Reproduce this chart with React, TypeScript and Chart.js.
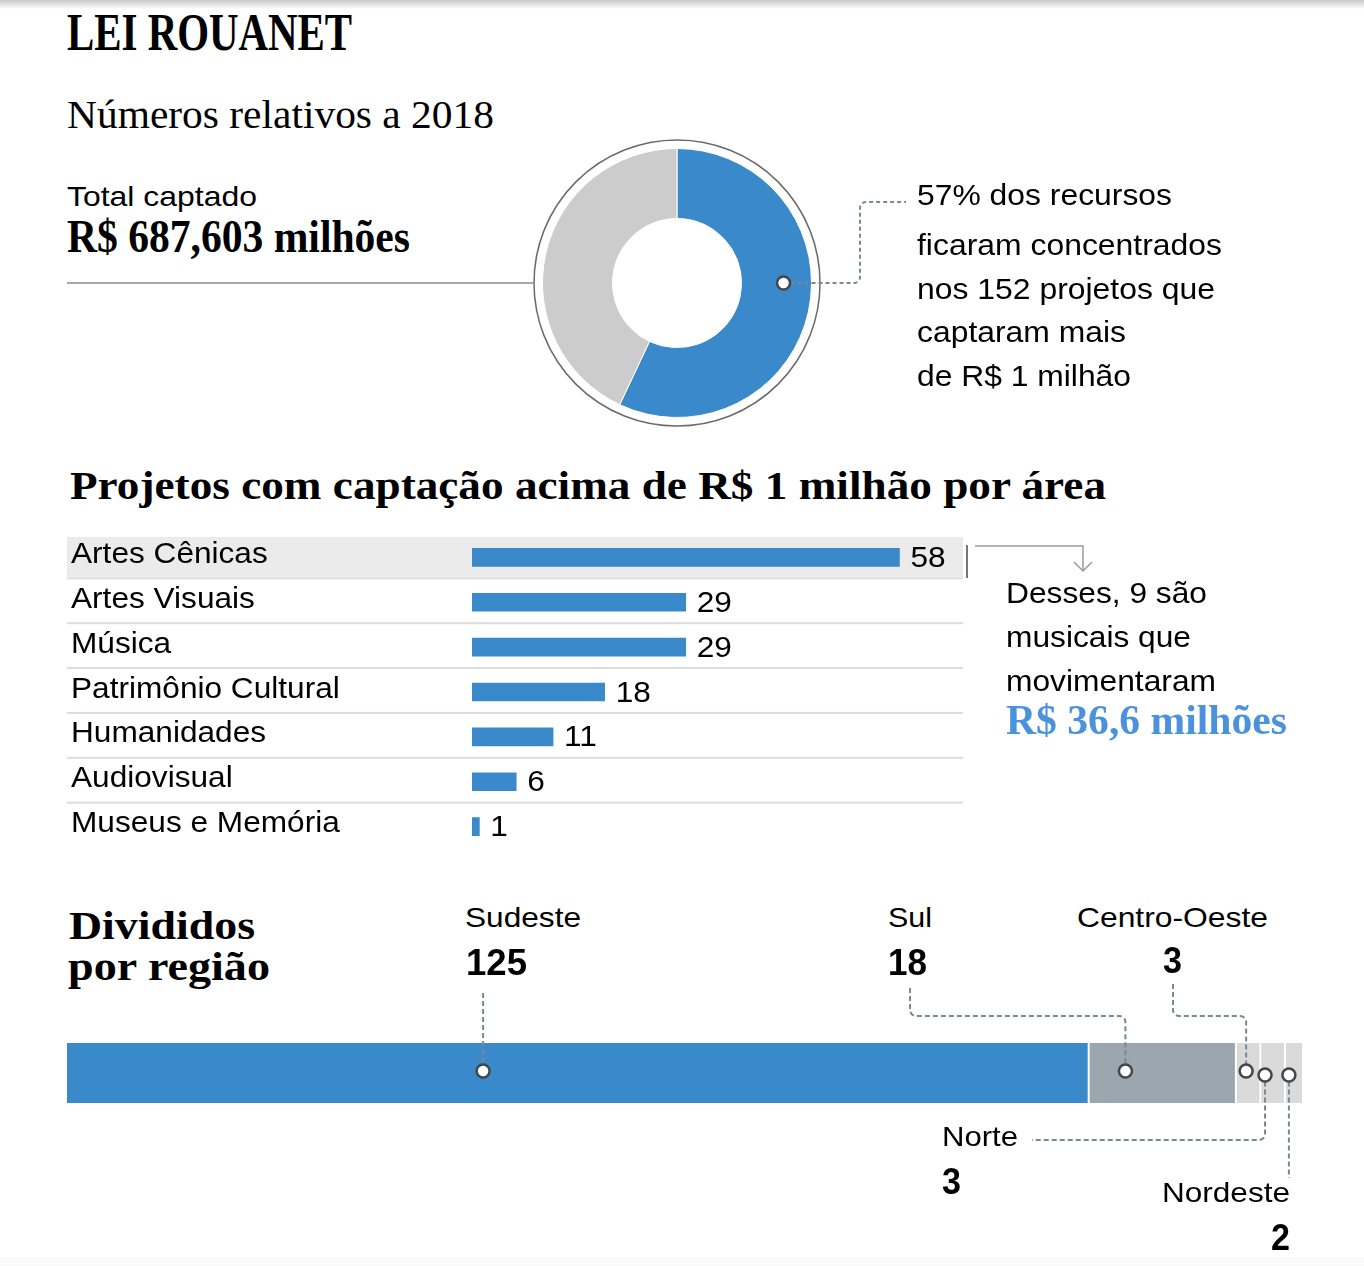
import React, { useEffect, useLayoutEffect, useRef } from "react";
import { Chart, registerables } from "chart.js";

Chart.register(...registerables);

// ---------- data ----------
const donutLabels = ["Projetos acima de R$ 1 milhão", "Demais projetos"];
const donutValues = [57, 43];

const areaLabels = [
  "Artes Cênicas",
  "Artes Visuais",
  "Música",
  "Patrimônio Cultural",
  "Humanidades",
  "Audiovisual",
  "Museus e Memória",
];
const areaValues = [58, 29, 29, 18, 11, 6, 1];

const regionLabels = ["Sudeste", "Sul", "Centro-Oeste", "Norte", "Nordeste"];
const regionValues = [125, 18, 3, 3, 2];

// ---------- styles ----------
const BLUE = "#3a89ca";
const GRAY = "#cccccc";
const SANS = "'Liberation Sans', Arial, sans-serif";
const SERIF = "'Liberation Serif', 'Times New Roman', serif";
const SX = 1.09;
const LEADER = "#7f868c";

Chart.defaults.font.family = SANS;

type TxtProps = {
  x: number;
  base: number;
  size: number;
  w?: number;
  text: string;
  serif?: boolean;
  bold?: boolean;
  color?: string;
  right?: boolean;
};

function Txt({ x, base, size, w, text, serif, bold, color, right }: TxtProps) {
  const ref = useRef<HTMLSpanElement>(null);
  useLayoutEffect(() => {
    const el = ref.current;
    if (!el) return;
    el.style.transform = "none";
    const nat = el.getBoundingClientRect().width;
    if (w && nat > 0) el.style.transform = `scaleX(${w / nat})`;
  }, [text, w, size]);
  const asc = serif ? 0.8375 : 0.8465;
  const style: React.CSSProperties = {
    position: "absolute",
    top: base - asc * size,
    fontSize: size,
    lineHeight: 1,
    whiteSpace: "nowrap",
    fontFamily: serif ? SERIF : SANS,
    fontWeight: bold ? 700 : 400,
    color: color || "#000",
    transformOrigin: right ? "right top" : "left top",
  };
  if (right) style.right = 1364 - x;
  else style.left = x;
  return (
    <span ref={ref} style={style}>
      {text}
    </span>
  );
}

function roundedPath(ctx: CanvasRenderingContext2D, pts: number[][], r = 6) {
  ctx.beginPath();
  ctx.moveTo(pts[0][0], pts[0][1]);
  for (let i = 1; i < pts.length - 1; i++) {
    ctx.arcTo(pts[i][0], pts[i][1], pts[i + 1][0], pts[i + 1][1], r);
  }
  ctx.lineTo(pts[pts.length - 1][0], pts[pts.length - 1][1]);
  ctx.stroke();
}

function marker(ctx: CanvasRenderingContext2D, x: number, y: number, r = 6.5) {
  ctx.save();
  ctx.setLineDash([]);
  ctx.beginPath();
  ctx.arc(x, y, r, 0, Math.PI * 2);
  ctx.fillStyle = "#ffffff";
  ctx.fill();
  ctx.lineWidth = 2.5;
  ctx.strokeStyle = "#41474c";
  ctx.stroke();
  ctx.restore();
}

function stretchedText(ctx: CanvasRenderingContext2D, t: string, x: number, y: number) {
  ctx.save();
  ctx.translate(x, y);
  ctx.scale(SX, 1);
  ctx.fillText(t, 0, 0);
  ctx.restore();
}

// ---------- donut ----------
function Donut() {
  const ref = useRef<HTMLCanvasElement>(null);
  useEffect(() => {
    const plugin = {
      id: "ringAndLeader",
      afterDraw(chart: any) {
        const arc = chart.getDatasetMeta(0).data[0];
        const { x, y, outerRadius, innerRadius } = arc.getProps(
          ["x", "y", "outerRadius", "innerRadius"],
          true
        );
        const ctx: CanvasRenderingContext2D = chart.ctx;
        ctx.save();
        ctx.strokeStyle = "#6a6a6a";
        ctx.lineWidth = 1.5;
        ctx.beginPath();
        ctx.arc(x, y, outerRadius + 8.5, 0, Math.PI * 2);
        ctx.stroke();
        const mx = x + innerRadius + (outerRadius - innerRadius) * 0.6;
        ctx.strokeStyle = LEADER;
        ctx.lineWidth = 2;
        ctx.setLineDash([4, 3]);
        roundedPath(ctx, [
          [mx + 7, y],
          [x + 183, y],
          [x + 183, y - 81],
          [x + 229, y - 81],
        ]);
        ctx.restore();
        marker(ctx, mx, y);
      },
    };
    const chart = new Chart(ref.current as HTMLCanvasElement, {
      type: "doughnut",
      data: {
        labels: donutLabels,
        datasets: [
          {
            data: donutValues,
            backgroundColor: [BLUE, GRAY],
            borderColor: "#ffffff",
            borderWidth: 1,
          },
        ],
      },
      options: {
        responsive: false,
        animation: false,
        cutout: "48%",
        layout: { padding: { left: 42, right: 108, top: 15, bottom: 15 } },
        plugins: { legend: { display: false }, tooltip: { enabled: false } },
      },
      plugins: [plugin],
    });
    return () => chart.destroy();
  }, []);
  return (
    <canvas
      ref={ref}
      width={420}
      height={300}
      style={{ position: "absolute", left: 500, top: 133, width: 420, height: 300 }}
    />
  );
}

// ---------- bars by area ----------
function AreaBars() {
  const ref = useRef<HTMLCanvasElement>(null);
  useEffect(() => {
    const plugin = {
      id: "rows",
      beforeDatasetsDraw(chart: any) {
        const ctx: CanvasRenderingContext2D = chart.ctx;
        const ys = chart.scales.y;
        const n = areaLabels.length;
        const band = ys.getPixelForValue(1) - ys.getPixelForValue(0);
        const rowRight = 896;
        ctx.save();
        const c0 = ys.getPixelForValue(0);
        const top0 = c0 - band / 2;
        ctx.fillStyle = "#ebebeb";
        ctx.fillRect(0, top0 + 2, rowRight, band - 5);
        ctx.fillStyle = "#dcdcdc";
        for (let i = 0; i < n - 1; i++) {
          const yy = ys.getPixelForValue(i) + band / 2 - 2.5;
          ctx.fillRect(0, yy, rowRight, 2);
        }
        // bracket + arrow
        ctx.strokeStyle = "#777777";
        ctx.lineWidth = 2;
        ctx.beginPath();
        ctx.moveTo(900, top0 + 10);
        ctx.lineTo(900, top0 + 43);
        ctx.stroke();
        ctx.strokeStyle = "#9a9a9a";
        ctx.lineWidth = 1.5;
        ctx.beginPath();
        ctx.moveTo(908, top0 + 11);
        ctx.lineTo(1016, top0 + 11);
        ctx.lineTo(1016, top0 + 36);
        ctx.stroke();
        ctx.beginPath();
        ctx.moveTo(1007, top0 + 27);
        ctx.lineTo(1016, top0 + 36);
        ctx.lineTo(1025, top0 + 27);
        ctx.stroke();
        ctx.restore();
      },
      afterDatasetsDraw(chart: any) {
        const ctx: CanvasRenderingContext2D = chart.ctx;
        const ys = chart.scales.y;
        const meta = chart.getDatasetMeta(0);
        ctx.save();
        ctx.fillStyle = "#000";
        ctx.font = `29px ${SANS}`;
        ctx.textBaseline = "middle";
        ctx.textAlign = "left";
        areaLabels.forEach((lab, i) => {
          stretchedText(ctx, lab, 4, ys.getPixelForValue(i) - 2.5);
        });
        meta.data.forEach((bar: any, i: number) => {
          stretchedText(ctx, String(areaValues[i]), bar.x + 11, bar.y + 1.5);
        });
        ctx.restore();
      },
    };
    const chart = new Chart(ref.current as HTMLCanvasElement, {
      type: "bar",
      data: {
        labels: areaLabels,
        datasets: [
          {
            data: areaValues,
            backgroundColor: BLUE,
            borderWidth: 0,
            barThickness: 18,
          },
        ],
      },
      options: {
        indexAxis: "y",
        responsive: false,
        animation: false,
        layout: { padding: { left: 405, right: 138.6, top: 5, bottom: 3 } },
        scales: {
          x: { display: false, min: 0, max: 66 },
          y: { display: false },
        },
        plugins: { legend: { display: false }, tooltip: { enabled: false } },
      },
      plugins: [plugin],
    });
    return () => chart.destroy();
  }, []);
  return (
    <canvas
      ref={ref}
      width={1030}
      height={322}
      style={{ position: "absolute", left: 67, top: 530, width: 1030, height: 322 }}
    />
  );
}

// ---------- regions ----------
const markerFrac = [0.407, 0.245, 0.39, 0.16, 0.2];

function RegionBar() {
  const ref = useRef<HTMLCanvasElement>(null);
  useEffect(() => {
    const T = 980;
    const plugin = {
      id: "leaders",
      afterDatasetsDraw(chart: any) {
        const ctx: CanvasRenderingContext2D = chart.ctx;
        const pts = regionLabels.map((_, i) => {
          const el = chart.getDatasetMeta(i).data[0];
          const { x, y, base } = el.getProps(["x", "y", "base"], true);
          const mx = base + (x - base) * markerFrac[i];
          const my = i < 3 ? y - 2 : y + 2;
          return [mx, my];
        });
        const r = 6.5;
        ctx.save();
        ctx.strokeStyle = LEADER;
        ctx.lineWidth = 2;
        ctx.setLineDash([5, 3]);
        // Sudeste
        roundedPath(ctx, [
          [pts[0][0], 993 - T],
          [pts[0][0], pts[0][1] - r],
        ]);
        // Sul
        roundedPath(ctx, [
          [910, 988 - T],
          [910, 1016 - T],
          [pts[1][0], 1016 - T],
          [pts[1][0], pts[1][1] - r],
        ]);
        // Centro-Oeste
        roundedPath(ctx, [
          [1173, 984 - T],
          [1173, 1016 - T],
          [pts[2][0], 1016 - T],
          [pts[2][0], pts[2][1] - r],
        ]);
        // Norte
        roundedPath(ctx, [
          [pts[3][0], pts[3][1] + r],
          [pts[3][0], 1140 - T],
          [1032, 1140 - T],
        ]);
        // Nordeste
        roundedPath(ctx, [
          [pts[4][0], pts[4][1] + r],
          [pts[4][0], 1178 - T],
        ]);
        ctx.restore();
        pts.forEach((p) => marker(ctx, p[0], p[1], r));
      },
    };
    const colors = [BLUE, "#9ba7af", "#dadada", "#dadada", "#dadada"];
    const chart = new Chart(ref.current as HTMLCanvasElement, {
      type: "bar",
      data: {
        labels: ["Projetos"],
        datasets: regionLabels.map((lab, i) => ({
          label: lab,
          data: [regionValues[i]],
          backgroundColor: colors[i],
          borderColor: "#ffffff",
          borderWidth: i < regionLabels.length - 1 ? { left: 0, right: 2, top: 0, bottom: 0 } : 0,
          borderSkipped: false,
          barPercentage: 1,
          categoryPercentage: 1,
        })),
      },
      options: {
        indexAxis: "y",
        responsive: false,
        animation: false,
        layout: { padding: { left: 67, right: 62, top: 63, bottom: 87 } },
        scales: {
          x: {
            display: false,
            stacked: true,
            min: 0,
            max: regionValues.reduce((a, b) => a + b, 0),
          },
          y: { display: false, stacked: true },
        },
        plugins: { legend: { display: false }, tooltip: { enabled: false } },
      },
      plugins: [plugin],
    });
    return () => chart.destroy();
  }, []);
  return (
    <canvas
      ref={ref}
      width={1364}
      height={210}
      style={{ position: "absolute", left: 0, top: 980, width: 1364, height: 210 }}
    />
  );
}

export default function App() {
  return (
    <div
      style={{
        position: "absolute",
        left: 0,
        top: 0,
        width: 1364,
        height: 1266,
        background: "#ffffff",
        overflow: "hidden",
        fontFamily: SANS,
      }}
    >
      <div
        style={{
          position: "absolute",
          left: 0,
          top: 0,
          width: 1364,
          height: 9,
          background: "linear-gradient(#c9c9c9, #ffffff)",
        }}
      />
      <div
        style={{
          position: "absolute",
          left: 0,
          top: 1257,
          width: 1364,
          height: 9,
          background: "#fafafa",
        }}
      />

      <Txt x={67} base={50} size={53} w={285} serif bold text="LEI ROUANET" />
      <Txt x={67} base={128} size={39} w={427} serif text="Números relativos a 2018" />
      <Txt x={67} base={207} size={28} w={190} text="Total captado" />
      <Txt x={67} base={253} size={46} w={343} serif bold text="R$ 687,603 milhões" />
      <div
        style={{
          position: "absolute",
          left: 67,
          top: 282,
          width: 466,
          height: 2,
          background: "#a8a8a8",
        }}
      />

      <Donut />

      <Txt x={917} base={206} size={29} w={255} text="57% dos recursos" />
      <Txt x={917} base={256} size={29} w={305} text="ficaram concentrados" />
      <Txt x={917} base={300} size={29} w={298} text="nos 152 projetos que" />
      <Txt x={917} base={343} size={29} w={209} text="captaram mais" />
      <Txt x={917} base={387} size={29} w={214} text="de R$ 1 milhão" />

      <Txt
        x={70}
        base={499}
        size={39}
        w={1036}
        serif
        bold
        text="Projetos com captação acima de R$ 1 milhão por área"
      />

      <AreaBars />

      <Txt x={1006} base={604} size={29} w={201} text="Desses, 9 são" />
      <Txt x={1006} base={648} size={29} w={185} text="musicais que" />
      <Txt x={1006} base={692} size={29} w={210} text="movimentaram" />
      <Txt x={1006} base={734} size={42} w={281} serif bold color="#4a93dc" text="R$ 36,6 milhões" />

      <Txt x={69} base={939} size={41} w={186} serif bold text="Divididos" />
      <Txt x={68} base={980} size={41} w={202} serif bold text="por região" />

      <RegionBar />

      <Txt x={465} base={928} size={28} w={116} text={regionLabels[0]} />
      <Txt x={466} base={975} size={36} w={61} bold text={String(regionValues[0])} />
      <Txt x={888} base={928} size={28} w={44} text={regionLabels[1]} />
      <Txt x={888} base={975} size={36} w={39} bold text={String(regionValues[1])} />
      <Txt x={1077} base={928} size={28} w={191} text={regionLabels[2]} />
      <Txt x={1163} base={973} size={36} w={19} bold text={String(regionValues[2])} />
      <Txt x={942} base={1147} size={28} w={76} text={regionLabels[3]} />
      <Txt x={942} base={1194} size={36} w={19} bold text={String(regionValues[3])} />
      <Txt x={1162} base={1203} size={28} w={128} text={regionLabels[4]} />
      <Txt x={1290} base={1250} size={36} w={19} bold right text={String(regionValues[4])} />
    </div>
  );
}
